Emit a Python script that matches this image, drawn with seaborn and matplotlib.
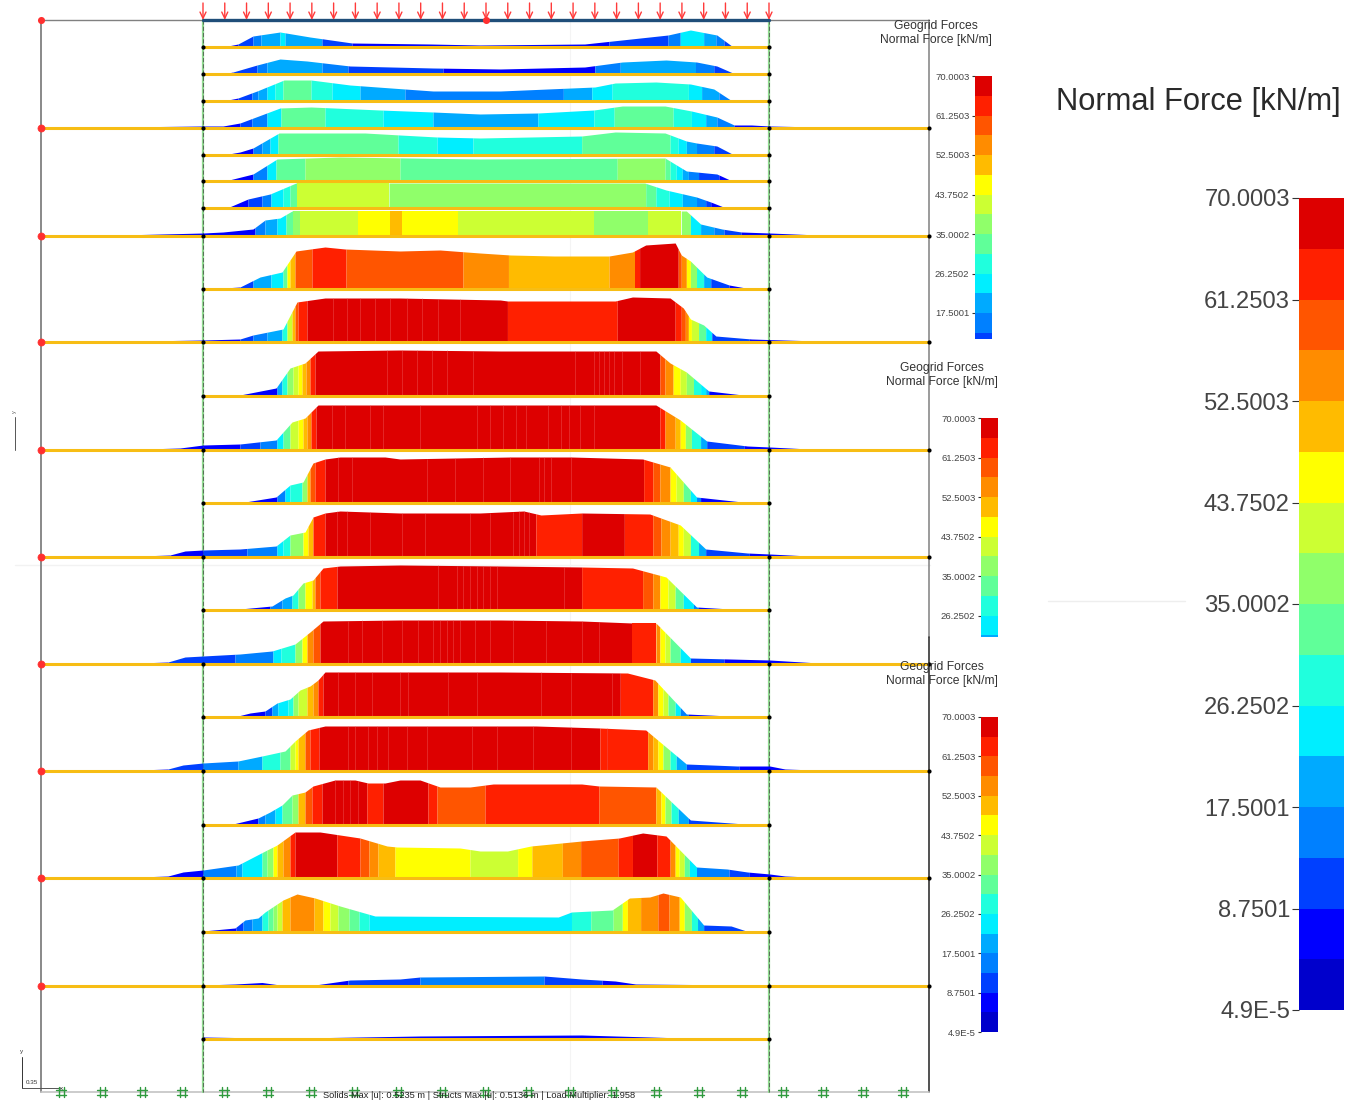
import numpy as np
import matplotlib
matplotlib.use('Agg')
import matplotlib.pyplot as plt
from matplotlib.colors import ListedColormap
import seaborn as sns

# colour bands of the legend, lowest force first
band_colors = ['#0000cc', '#0000ff', '#0040ff', '#0080ff', '#00aaff', '#00eeff', '#20ffdd', '#60ff99',
               '#90ff6a', '#ccff33', '#ffff00', '#ffbb00', '#ff8c00', '#ff5500', '#ff2000', '#dd0000']
legend_labels = ['70.0003', '61.2503', '52.5003', '43.7502', '35.0002', '26.2502', '17.5001', '8.7501', '4.9E-5']

# geogrid levels
layer_y = [47, 74, 101, 128, 155, 181, 208, 236, 289, 342, 396, 450, 503, 557, 610, 664, 717, 771, 825, 878, 932, 986, 1039]
long_layers = [128, 236, 342, 450, 557, 664, 771, 878, 986]

# force envelope of each geogrid: position and plotted height
profile_x = [
    [223, 238, 253, 280, 310, 352, 430, 480, 583, 665, 687, 713, 729],
    [223, 233, 257, 280, 307, 350, 433, 500, 583, 620, 663, 693, 713, 731],
    [223, 238, 257, 284, 311, 350, 405, 433, 500, 593, 613, 653, 687, 710, 728],
    [41, 100, 160, 203, 223, 240, 280, 311, 380, 433, 480, 537, 592, 620, 662, 688, 713, 730, 747, 765, 813, 890],
    [223, 240, 253, 279, 365, 400, 437, 480, 580, 613, 662, 683, 693, 713, 730],
    [225, 253, 277, 340, 480, 662, 683, 713, 728],
    [227, 248, 270, 296, 642, 663, 693, 707, 722],
    [41, 100, 203, 223, 253, 265, 280, 292, 683, 697, 718, 737, 765, 813, 880],
    [207, 240, 260, 282, 292, 296, 325, 345, 400, 440, 480, 510, 553, 607, 630, 643, 672, 678, 687, 703, 725, 747],
    [41, 100, 203, 240, 253, 283, 297, 325, 400, 500, 507, 613, 630, 667, 680, 687, 700, 712, 747, 765, 813, 847],
    [207, 240, 276, 290, 305, 318, 400, 500, 653, 667, 683, 705, 747],
    [41, 110, 180, 203, 240, 276, 292, 305, 318, 400, 500, 653, 677, 703, 743, 765, 823],
    [207, 245, 276, 290, 303, 313, 325, 340, 385, 400, 510, 570, 640, 667, 693, 747],
    [41, 110, 170, 185, 203, 240, 276, 290, 305, 313, 325, 340, 400, 480, 523, 540, 580, 647, 677, 702, 743, 765, 823],
    [210, 240, 272, 285, 293, 303, 313, 323, 340, 400, 500, 580, 630, 663, 693, 743],
    [41, 110, 168, 185, 203, 240, 272, 295, 310, 323, 400, 500, 580, 630, 653, 687, 765, 813, 880],
    [210, 238, 250, 265, 277, 290, 300, 310, 318, 325, 400, 500, 625, 652, 683, 747],
    [41, 110, 168, 183, 203, 238, 262, 285, 295, 308, 325, 535, 598, 643, 683, 733, 765, 780, 830, 880],
    [210, 233, 258, 270, 282, 292, 305, 313, 335, 355, 368, 385, 400, 420, 440, 470, 493, 580, 597, 653, 687, 740, 747],
    [41, 110, 168, 183, 203, 238, 267, 277, 295, 320, 360, 387, 397, 460, 480, 507, 530, 580, 617, 640, 663, 693, 723, 743, 765, 780, 827],
    [203, 235, 245, 258, 265, 283, 297, 315, 340, 375, 557, 570, 610, 627, 647, 660, 677, 700, 727, 745],
    [203, 235, 262, 280, 300, 315, 350, 400, 420, 543, 580, 613, 633, 743, 747],
    [203, 265, 300, 420, 580, 647, 680, 747],
]
profile_h = [
    [0, 3, 11, 15, 10, 4, 3, 2, 3, 12, 17, 12, 0],
    [0, 2, 9, 15, 13, 8, 6, 5, 7, 12, 14, 12, 8, 0],
    [0, 3, 10, 21, 21, 16, 12, 10, 10, 14, 18, 19, 17, 12, 0],
    [0, 0.5, 1.5, 2, 2, 5, 20, 21, 18, 16, 14, 15, 18, 22, 22, 17, 11, 3, 3, 2, 1, 0],
    [0, 3, 7, 22, 22, 20, 18, 17, 19, 23, 22, 14, 12, 9, 0],
    [0, 7, 22, 24, 22, 23, 10, 7, 0],
    [0, 9, 14, 25, 25, 18, 11, 6, 0],
    [0, 0.5, 3, 4, 7, 16, 18, 25, 25, 12, 7, 4, 3, 1, 0],
    [0, 2, 12, 17, 32, 38, 42, 40, 38, 39, 36, 34, 33, 33, 37, 44, 46, 34, 28, 12, 4, 0],
    [0, 0.3, 2, 3, 7, 13, 40, 44, 44, 42, 41, 41, 45, 44, 34, 23, 17, 6, 3, 2.4, 1, 0],
    [0, 1, 8, 28, 33, 45, 46, 45, 45, 33, 24, 5, 0],
    [0, 0, 2, 5, 6, 10, 28, 32, 45, 45, 45, 45, 30, 9, 4, 3, 0],
    [0, 1, 6, 18, 21, 40, 44, 46, 46, 44, 46, 46, 44, 36, 6, 0],
    [0, 0, 2, 6, 7, 8, 11, 22, 25, 40, 44, 46, 44, 44, 46, 42, 44, 43, 32, 8, 4, 3, 0],
    [0, 1, 4, 12, 15, 27, 30, 42, 44, 45, 44, 43, 42, 33, 3, 0],
    [0, 0, 2, 7, 8, 10, 13, 20, 32, 43, 44, 44, 43, 41, 41, 6, 4, 1, 0],
    [0, 1, 4, 6, 14, 18, 27, 31, 37, 45, 45, 45, 44, 37, 3, 0],
    [0, 0, 2, 6, 8, 10, 15, 20, 30, 41, 45, 45, 43, 41, 7, 5, 5, 2, 0.3, 0],
    [0, 1, 7, 13, 20, 30, 33, 39, 45, 45, 42, 42, 45, 45, 38, 38, 41, 41, 39, 38, 5, 1, 0],
    [0, 0, 2, 6, 8, 13, 28, 33, 46, 46, 40, 32, 31, 30, 27, 27, 32, 37, 40, 45, 42, 11, 9, 6, 4, 2, 0],
    [1, 4, 12, 14, 20, 32, 38, 34, 26, 16, 15, 20, 22, 34, 35, 39, 35, 7, 6, 0],
    [1, 2, 3.5, 1, 0, 1, 6, 7, 9, 10, 7, 5, 2, 1, 0],
    [2, 1, 1, 3, 4, 2, 1, 0],
]

# where the colour changes along each geogrid, and the band between those places
band_edges = [
    [223, 238, 253, 261, 280, 285, 322, 352, 607, 665, 677, 700, 712, 720, 729],
    [223, 233, 257, 267, 322, 348, 443, 593, 618, 692, 710, 731],
    [223, 238, 252, 258, 267, 275, 283, 311, 332, 360, 405, 562, 590, 610, 685, 698, 715, 728],
    [41, 240, 252, 267, 281, 325, 383, 433, 537, 592, 612, 670, 688, 702, 713, 730, 890],
    [223, 253, 262, 270, 278, 398, 437, 473, 580, 667, 675, 683, 693, 710, 730],
    [225, 253, 267, 276, 305, 400, 615, 662, 667, 673, 679, 685, 695, 715, 728],
    [227, 248, 262, 271, 283, 290, 297, 389, 643, 653, 666, 679, 693, 702, 707, 722],
    [41, 255, 265, 277, 286, 293, 300, 358, 390, 402, 458, 592, 645, 678, 687, 697, 710, 720, 737, 880],
    [207, 240, 253, 271, 283, 287, 290, 295, 312, 346, 463, 508, 607, 632, 637, 675, 678, 683, 687, 693, 700, 707, 725, 747],
    [41, 240, 253, 267, 282, 287, 292, 295, 298, 307, 507, 615, 672, 678, 682, 685, 688, 695, 702, 708, 745, 847],
    [207, 277, 282, 287, 293, 298, 302, 306, 310, 315, 657, 662, 670, 677, 683, 690, 697, 702, 705, 747],
    [41, 203, 240, 260, 277, 283, 290, 298, 303, 307, 311, 316, 657, 662, 672, 677, 682, 688, 697, 703, 740, 823],
    [207, 277, 285, 290, 302, 307, 310, 315, 325, 641, 650, 657, 667, 673, 680, 687, 693, 697, 747],
    [41, 170, 203, 247, 277, 283, 290, 303, 308, 313, 325, 535, 580, 622, 650, 658, 667, 675, 680, 687, 695, 702, 745, 823],
    [210, 270, 282, 292, 298, 305, 312, 315, 320, 337, 580, 640, 650, 657, 665, 672, 680, 690, 695, 743],
    [41, 168, 235, 273, 281, 295, 302, 307, 313, 320, 630, 653, 657, 662, 667, 677, 687, 720, 880],
    [210, 265, 272, 278, 288, 293, 298, 307, 313, 318, 323, 618, 650, 655, 660, 665, 672, 677, 685, 747],
    [41, 168, 203, 238, 262, 280, 290, 295, 298, 305, 310, 319, 598, 645, 650, 655, 660, 667, 673, 683, 735, 880],
    [210, 258, 265, 275, 282, 292, 298, 305, 312, 322, 367, 383, 428, 437, 485, 597, 653, 658, 662, 668, 675, 685, 740, 747],
    [41, 203, 236, 242, 262, 267, 273, 277, 283, 290, 295, 337, 360, 369, 378, 395, 470, 517, 531, 561, 579, 616, 630, 654, 667, 672, 676, 681, 686, 693, 725, 745, 827],
    [203, 236, 243, 252, 262, 268, 273, 277, 282, 290, 314, 323, 330, 338, 349, 359, 369, 570, 589, 611, 620, 625, 638, 655, 666, 676, 681, 688, 694, 700, 745],
    [203, 348, 420, 543, 600, 747],
    [203, 747],
]
band_ids = [
    [1, 2, 3, 4, 5, 4, 2, 1, 2, 3, 5, 4, 3, 2],
    [1, 2, 3, 4, 3, 2, 1, 3, 4, 3, 2],
    [1, 2, 3, 4, 5, 6, 7, 6, 5, 4, 3, 4, 5, 6, 5, 4, 3],
    [1, 2, 3, 5, 7, 6, 5, 4, 5, 6, 7, 6, 5, 4, 3, 1],
    [1, 3, 4, 5, 7, 6, 5, 6, 7, 6, 5, 4, 3, 2],
    [1, 3, 5, 7, 8, 7, 8, 7, 6, 5, 4, 3, 2, 1],
    [1, 2, 3, 5, 6, 7, 9, 8, 7, 6, 5, 4, 3, 2, 1],
    [1, 3, 4, 5, 7, 8, 9, 10, 11, 10, 9, 8, 9, 8, 5, 4, 3, 2, 1],
    [1, 2, 4, 5, 7, 10, 11, 13, 14, 13, 12, 11, 12, 14, 15, 13, 12, 10, 8, 6, 4, 2, 1],
    [1, 2, 3, 4, 6, 9, 11, 13, 14, 15, 14, 15, 14, 13, 12, 10, 9, 7, 5, 2, 1],
    [1, 4, 6, 8, 9, 10, 11, 12, 14, 15, 13, 12, 10, 9, 8, 6, 5, 4, 1],
    [1, 1, 2, 3, 5, 7, 9, 10, 11, 12, 14, 15, 14, 12, 11, 10, 8, 6, 4, 2, 1],
    [1, 3, 5, 6, 8, 11, 13, 14, 15, 14, 13, 12, 10, 9, 7, 5, 3, 1],
    [1, 1, 2, 3, 5, 6, 8, 10, 11, 14, 15, 14, 15, 14, 13, 12, 11, 10, 9, 6, 4, 2, 1],
    [1, 3, 4, 6, 8, 10, 11, 13, 14, 15, 14, 13, 12, 10, 9, 7, 5, 3, 1],
    [1, 2, 3, 5, 6, 8, 10, 12, 13, 15, 14, 12, 10, 9, 7, 5, 2, 1],
    [1, 2, 4, 5, 6, 8, 9, 11, 12, 14, 15, 14, 12, 10, 9, 7, 5, 3, 1],
    [1, 2, 3, 4, 6, 7, 9, 10, 11, 13, 14, 15, 14, 12, 11, 10, 8, 6, 4, 2, 1],
    [1, 3, 4, 5, 7, 8, 11, 13, 14, 15, 14, 15, 14, 13, 14, 13, 11, 10, 8, 6, 4, 2, 1],
    [1, 3, 4, 5, 7, 8, 10, 11, 12, 14, 15, 14, 13, 12, 11, 10, 9, 10, 11, 12, 13, 14, 15, 14, 12, 10, 9, 7, 5, 3, 2, 1],
    [1, 2, 3, 4, 6, 7, 8, 9, 11, 12, 11, 10, 9, 8, 7, 6, 5, 6, 7, 8, 10, 11, 12, 13, 12, 10, 8, 6, 4, 2],
    [1, 2, 3, 2, 1],
    [1],
]

# pale element seams inside the red blocks
seam_layer = [342, 396, 450, 503, 557, 610, 664, 717, 771, 825]
seam_x = [
    [333, 347, 360, 375, 390, 407, 422, 438, 460],
    [387, 402, 417, 432, 447, 473, 573, 592, 597, 602, 607, 612, 620, 637],
    [332, 345, 370, 383, 420, 477, 490, 503, 515, 525, 547, 560, 568, 578, 592],
    [338, 352, 427, 455, 483, 510, 538, 543, 550, 570],
    [337, 347, 370, 402, 425, 470, 490, 512, 518, 523, 528],
    [438, 457, 463, 470, 477, 483, 490, 497, 563],
    [348, 362, 382, 402, 418, 433, 440, 447, 453, 460, 475, 490, 512, 545, 580, 597],
    [338, 355, 372, 400, 408, 448, 477, 540, 570, 610],
    [348, 355, 368, 377, 388, 407, 427, 472, 497, 532, 570, 605],
    [335, 343, 350, 358],
]

# support marks along the bottom edge
support_x = [61, 102, 142, 182, 224, 268, 311, 354, 398, 442, 485, 528, 570, 613, 656, 699, 742, 783, 823, 863, 903]


def cal(x):
    # right half was read from a zoom that came out slightly narrow
    x = np.asarray(x, dtype=float)
    return np.where(x > 480, 480 + (x - 480) * 1.0165, x)


sns.set_theme(style='white')
plt.rcParams['font.family'] = ['Liberation Sans', 'DejaVu Sans']

W, H = 1354, 1101
fig = plt.figure(figsize=(W / 100, H / 100), dpi=100)
ax = fig.add_axes([0, 0, 1, 1])
ax.set_xlim(0, W)
ax.set_ylim(H, 0)
ax.axis('off')

cmap = ListedColormap(band_colors)

# faint leftovers of the pasted screenshots
ax.plot([15, 930], [565, 565], color='#f2f2f2', lw=1, zorder=1)
ax.plot([1048, 1185], [601, 601], color='#eeeeee', lw=1, zorder=1)
ax.plot([570, 570], [20, 1092], color='#f4f4f4', lw=0.8, zorder=1)

# model frame
ax.plot([41, 41], [20, 1092], color='#808080', lw=1.3, zorder=2)
ax.plot([41, 929], [20, 20], color='#808080', lw=1, zorder=2)
ax.plot([929, 929], [20, 637], color='#808080', lw=1.1, zorder=2)
ax.plot([929, 929], [637, 1092], color='#222222', lw=1.1, zorder=2)
ax.plot([41, 929], [1092, 1092], color='#c4c4c4', lw=1.2, zorder=2)
for x in [203, 769]:
    ax.plot([x, x], [20, 1092], color='#8fd88f', lw=1.6, zorder=2)
    ax.plot([x, x], [20, 1092], color='#444444', lw=0.5, ls=(0, (6, 3)), zorder=2)

# force profiles
for base, xs, hs, edges, ids in zip(layer_y, profile_x, profile_h, band_edges, band_ids):
    xs = cal(xs)
    edges = cal(edges)
    for left, right, b in zip(edges[:-1], edges[1:], ids):
        seg = np.concatenate([[left], xs[(xs > left) & (xs < right)], [right]])
        top = np.interp(seg, xs, hs)
        ax.fill_between(seg, base - top, base, color=band_colors[b], lw=0, zorder=3)

# seams in the red blocks
for base, seams in zip(seam_layer, seam_x):
    i = layer_y.index(base)
    sx = cal(seams)
    ax.vlines(sx, base - np.interp(sx, cal(profile_x[i]), profile_h[i]), base, color='#ee5a5a', lw=0.5, alpha=0.6, zorder=3.5)

# geogrids with their end nodes
for base in layer_y:
    is_long = base in long_layers
    x0, x1 = (41, 929) if is_long else (203, 769)
    ax.plot([x0, x1], [base, base], color='#f7bd14', lw=2.2, solid_capstyle='butt', zorder=4)
    ends = [203, 769, 929] if is_long else [203, 769]
    ax.scatter(ends, [base] * len(ends), s=9, color='black', lw=0, zorder=6)
    if is_long:
        ax.scatter([41], [base], s=26, facecolor='#ff3030', edgecolor='#ff3030', lw=0.5, zorder=6)

# loaded top edge and the load arrows
ax.plot([203, 769], [20, 20], color='#1f4e79', lw=2.4, zorder=5)
ax.scatter([41, 486], [20, 20], s=26, color='#ff3030', lw=0, zorder=6)
for x in np.linspace(203, 769, 27):
    ax.annotate('', xy=(x, 20), xytext=(x, 3),
                arrowprops=dict(arrowstyle='->,head_width=0.18,head_length=0.38', color='#ff3b3b', lw=1, shrinkA=0, shrinkB=0),
                zorder=5)

# supports
for x in support_x:
    for dx in (-2.5, 2.5):
        ax.plot([x + dx, x + dx], [1087, 1097], color='#2f9a3e', lw=1, zorder=4)
        ax.plot([x - 5, x + 5], [1092 + dx, 1092 + dx], color='#2f9a3e', lw=1, zorder=4)

ax.text(479, 1095, 'Solids Max |u|: 0.5235 m | Structs Max |u|: 0.5136 m | Load Multiplier: 1.958',
        ha='center', va='center', fontsize=6.7, color='#222222', zorder=7)

# small axes triad and scale mark
ax.plot([22, 22], [1057, 1088], color='#333333', lw=0.7)
ax.plot([22, 60], [1088, 1088], color='#555555', lw=0.7)
ax.text(21.5, 1052, 'y', fontsize=4.5, ha='center', va='center', color='#333333')
ax.text(61, 1089, 'x', fontsize=4.5, ha='center', va='center', color='#333333')
ax.text(32, 1082, '0.35', fontsize=4.5, ha='center', va='center', color='#333333')
ax.plot([15, 15], [417, 450], color='#555555', lw=0.7)
ax.text(14.5, 412, 'y', fontsize=4, ha='center', va='center', color='#555555', rotation=90)

# legend titles
for cx, y in [(936, 26), (942, 368), (942, 667)]:
    ax.text(cx, y, 'Geogrid Forces', ha='center', va='center', fontsize=8.7, color='#333333', zorder=7)
    ax.text(cx, y + 14, 'Normal Force [kN/m]', ha='center', va='center', fontsize=8.7, color='#333333', zorder=7)
ax.text(1198, 102, 'Normal Force [kN/m]', ha='center', va='center', fontsize=22.2, color='#2a2a2a', zorder=7)


def color_bar(x0, x1, y0, y1, row_h, font, tick_len):
    # heatmap with one cell per band, cut off where the screenshot cuts it
    bar = fig.add_axes([x0 / W, 1 - y1 / H, (x1 - x0) / W, (y1 - y0) / H], facecolor='none')
    rows = np.arange(15, -1, -1).reshape(-1, 1)
    sns.heatmap(rows, ax=bar, cmap=cmap, vmin=-0.5, vmax=15.5, cbar=False, xticklabels=False)
    shown = (y1 - y0) / row_h
    ticks = [t for t in range(0, 17, 2) if t <= shown]
    bar.set_xticks([])
    bar.set_yticks(ticks)
    bar.set_yticklabels(legend_labels[:len(ticks)], rotation=0, va='center_baseline')
    bar.set_ylim(shown, 0)
    bar.tick_params(axis='y', left=True, length=tick_len, width=0.8, color='#333333',
                    labelsize=font, labelcolor='#444444', pad=1.5)


color_bar(975, 992, 76, 339, 19.75, 6.8, 2.5)
color_bar(981, 998, 418, 637, 19.75, 6.8, 2.5)
color_bar(981, 998, 717, 1032, 19.6875, 6.8, 2.5)
color_bar(1299, 1344, 198, 1010, 50.75, 17.1, 5)

fig.savefig('out.png', dpi=100)
